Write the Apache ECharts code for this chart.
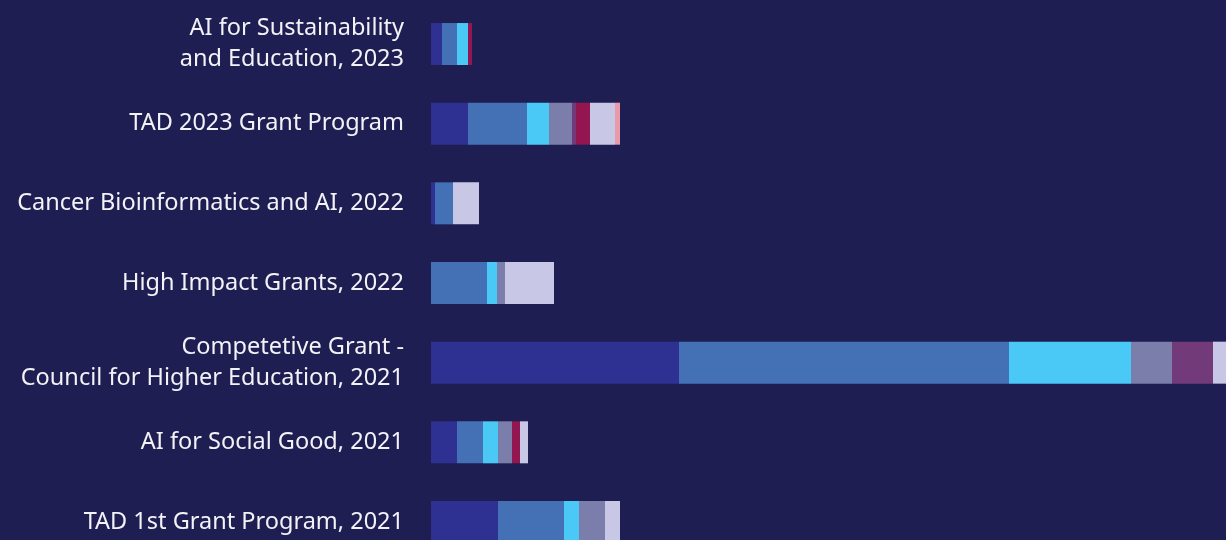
<!DOCTYPE html>
<html><head><meta charset="utf-8">
<script src="https://cdn.jsdelivr.net/npm/echarts@6/dist/echarts.min.js"></script>
<style>html,body{margin:0;padding:0;background:#1e1e53;}#c{width:1226px;height:540px;}</style>
</head><body><div id="c"></div>
<script>
const categories = [
  "AI for Sustainability\nand Education, 2023",
  "TAD 2023 Grant Program",
  "Cancer Bioinformatics and AI, 2022",
  "High Impact Grants, 2022",
  "Competetive Grant -\nCouncil for Higher Education, 2021",
  "AI for Social Good, 2021",
  "TAD 1st Grant Program, 2021"
];
const seriesNames = ["A", "B", "C", "D", "E", "F", "G", "H"];
const valuesA = [11, 37, 4, 0, 248, 26, 67];
const valuesB = [15, 59, 18, 56, 330, 26, 66];
const valuesC = [11, 22, 0, 10, 122, 15, 15];
const valuesD = [0, 23, 0, 8, 41, 14, 26];
const valuesE = [0, 4, 0, 0, 41, 0, 0];
const valuesF = [4, 14, 0, 0, 0, 8, 0];
const valuesG = [0, 25, 26, 49, 30, 8, 15];
const valuesH = [0, 5, 0, 0, 0, 0, 0];
const seriesValues = [valuesA, valuesB, valuesC, valuesD, valuesE, valuesF, valuesG, valuesH];
const colors = ["#2e3192", "#4470b6", "#4ac9f6", "#7b7daa", "#733a7a", "#941651", "#c8c8e6", "#e89aaa"];

const chart = echarts.init(document.getElementById('c'), null, {renderer: 'canvas'});
chart.setOption({
  backgroundColor: '#1e1e53',
  animation: false,
  grid: {left: 431, right: 0, top: 4.2, bottom: -21.8, containLabel: false, outerBoundsMode: 'none'},
  xAxis: {type: 'value', min: 0, max: 795, show: false},
  yAxis: {
    type: 'category', data: categories, inverse: true,
    axisLine: {show: false}, axisTick: {show: false}, splitLine: {show: false},
    axisLabel: {
      margin: 27, color: '#f2f2f7', fontFamily: 'Noto Sans', fontSize: 23.5,
      lineHeight: 31, align: 'right'
    }
  },
  series: seriesValues.map((vals, i) => ({
    name: seriesNames[i], type: 'bar', stack: 'total', data: vals,
    barWidth: 42, itemStyle: {color: colors[i]}, clip: true
  }))
});
</script></body></html>
